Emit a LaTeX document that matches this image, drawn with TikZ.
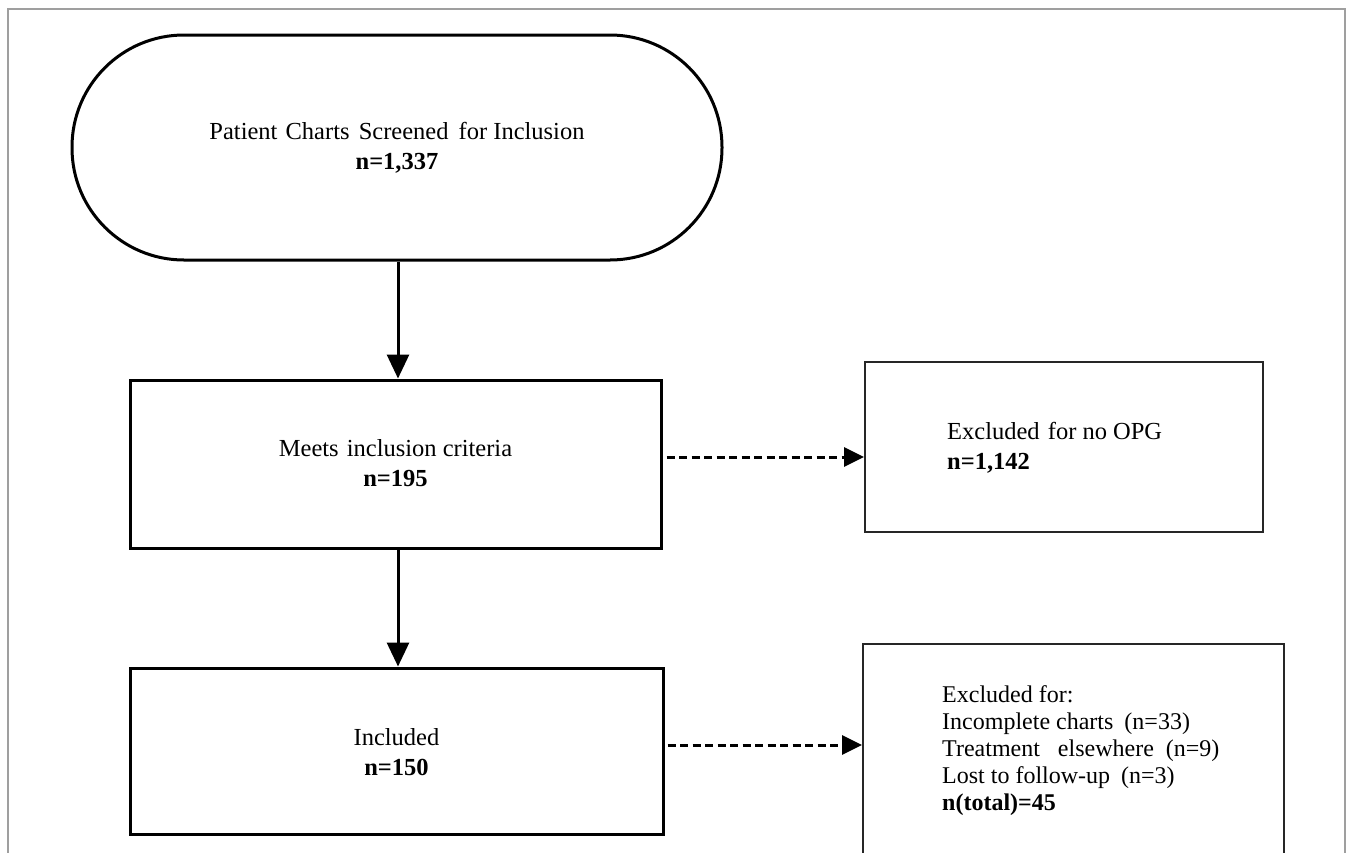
\documentclass[tikz,border=0pt]{standalone}
\usepackage{fontspec}
\setmainfont{Liberation Serif}
\usetikzlibrary{arrows.meta}
\begin{document}
\begin{tikzpicture}[x=1pt,y=-1pt,
  box/.style={draw=black, line width=3pt, inner sep=0pt},
  sidebox/.style={draw=black!85, line width=1.8pt, inner sep=0pt},
  txt/.style={font=\fontsize{24.5}{30}\selectfont, inner sep=0pt},
  listtxt/.style={font=\fontsize{24}{27}\selectfont, inner sep=0pt, align=left},
  solidarrow/.style={line width=3pt, -{Triangle[length=24pt,width=22pt]}},
  dasharrow/.style={line width=3pt, dash pattern=on 8pt off 4.5pt, -{Triangle[length=20pt,width=19pt]}}]
\useasboundingbox (0,0) rectangle (1347,852);
\clip (0,0) rectangle (1347,852);
\fill[white] (0,0) rectangle (1347,852);
% outer frame
\draw[gray!75, line width=1.5pt] (8,860) -- (8,9) -- (1345,9) -- (1345,860);

% main column
\node[box, rounded corners=112pt, minimum width=650pt, minimum height=225pt] (start) at (397,147.5) {};
\node[txt, align=center] (starttxt) at (397,148) {Patient\hspace{2pt} Charts\hspace{3pt} Screened\hspace{4pt} for Inclusion\\\textbf{n=1,337}};

\node[box, minimum width=531pt, minimum height=168pt] (meets) at (395.5,464) {};
\node[txt, align=center] (meetstxt) at (395.5,463) {Meets\hspace{2pt} inclusion criteria\\\textbf{n=195}};

\node[box, minimum width=533pt, minimum height=166pt] (incl) at (396.5,751) {};
\node[txt, align=center] (incltxt) at (396.5,752) {Included\\\textbf{n=150}};

% side boxes
\node[sidebox, minimum width=398pt, minimum height=170pt] (excl1) at (1064,447) {};
\node[txt, align=left, anchor=west] (excl1txt) at (947,448) {Excluded\hspace{2pt} for no OPG\\\textbf{n=1,142}};

\node[sidebox, minimum width=421pt, minimum height=240pt] (excl2) at (1073.5,764) {};
\node[listtxt, anchor=west] (excl2txt) at (942,751) {Excluded for:\\Incomplete charts\hspace{5pt} (n=33)\\Treatment\hspace{12pt} elsewhere\hspace{6pt} (n=9)\\Lost to follow-up\hspace{5pt} (n=3)\\\textbf{n(total)=45}};

% connectors
\draw[solidarrow] ([xshift=1pt]start.south) -- ([xshift=1pt]start.south |- meets.north);
\draw[solidarrow] ([xshift=2.5pt]meets.south) -- ([xshift=2.5pt]meets.south |- incl.north);

\coordinate (d1s) at ([xshift=4pt,yshift=7pt]meets.east);
\draw[dasharrow] (d1s) -- (d1s -| excl1.west);
\coordinate (d2s) at ([xshift=3pt,yshift=6pt]incl.east);
\draw[dasharrow] (d2s) -- (d2s -| excl2.west);
\end{tikzpicture}
\end{document}
